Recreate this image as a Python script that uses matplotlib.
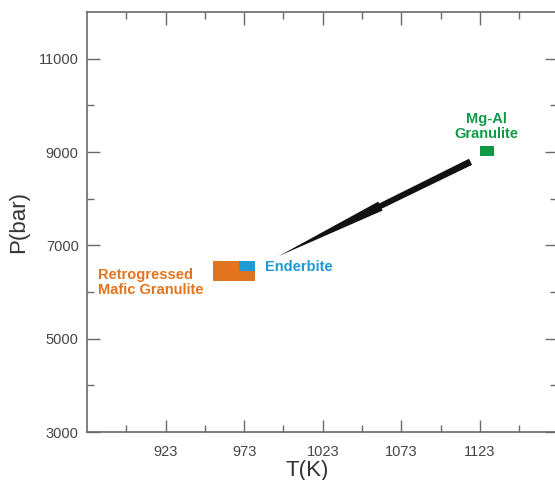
import matplotlib
matplotlib.use("Agg")
import matplotlib.pyplot as plt
from matplotlib.patches import Rectangle, Polygon
from matplotlib.ticker import FixedLocator
import numpy as np

plt.rcParams['font.family'] = ['Liberation Sans', 'DejaVu Sans']

# axis ticks
t_major = [923, 973, 1023, 1073, 1123]
t_minor = [898, 948, 998, 1048, 1098, 1148]
p_major = [3000, 5000, 7000, 9000, 11000]
p_minor = [4000, 6000, 8000, 10000]

# P-T fields: (Tmin, Tmax, Pmin, Pmax)
mafic_box = (953, 980, 6230, 6660)
enderbite_box = (970, 980, 6440, 6660)
mgal_box = (1123, 1132, 8910, 9130)

# P-T path arrow (tail -> tip) and where the step sits along it
arrow_tail = (1117, 8790)
arrow_tip = (995, 6770)
step_from, step_to = 0.47, 0.53

orange = '#E3741F'
blue = '#1C9AD6'
green = '#109A48'
axcol = '#6a6a6a'

fig = plt.figure(figsize=(5.55, 4.8), dpi=100)
ax = fig.add_axes([87 / 555, 0.1, 470 / 555, 0.875])
ax.set_xlim(873, 1172)
ax.set_ylim(3000, 12000)

ax.xaxis.set_major_locator(FixedLocator(t_major))
ax.xaxis.set_minor_locator(FixedLocator(t_minor))
ax.yaxis.set_major_locator(FixedLocator(p_major))
ax.yaxis.set_minor_locator(FixedLocator(p_minor))
ax.tick_params(which='both', direction='in', top=True, right=True,
               color=axcol, labelcolor='#444444', labelsize=10.5, width=1)
ax.tick_params(which='major', length=9)
ax.tick_params(axis='x', which='major', pad=9)
ax.tick_params(axis='y', which='major', pad=6)
ax.tick_params(which='minor', length=5)
for s in ax.spines.values():
    s.set_color(axcol)
    s.set_linewidth(1.2)

ax.set_xlabel('T(K)', fontsize=16, color='#333333')
ax.set_ylabel('P(bar)', fontsize=16, color='#333333')
ax.xaxis.set_label_coords(0.469, -0.066)
ax.yaxis.set_label_coords(-0.123, 0.5)

def box(b, c):
    ax.add_patch(Rectangle((b[0], b[2]), b[1] - b[0], b[3] - b[2],
                           facecolor=c, edgecolor='none', zorder=3))

box(mafic_box, orange)
box(enderbite_box, blue)
box(mgal_box, green)

# tapered arrow drawn in display space
fig.canvas.draw()
t = ax.transData.transform(arrow_tail)
p = ax.transData.transform(arrow_tip)
L = np.hypot(*(p - t))
u = (p - t) / L
n = np.array([-u[1], u[0]])
a = t + u * L * step_from
b = t + u * L * step_to
pts = [t + n * 3.4, a + n * 2.9, a + n * 5.0, b + n * 4.4, p,
       b - n * 4.4, a - n * 5.0, a - n * 2.9, t - n * 3.4]
ax.add_patch(Polygon(pts, closed=True, facecolor='#111111', edgecolor='none',
                     transform=None, zorder=4))

ax.text(1127, 9240, 'Mg-Al\nGranulite', color=green, fontsize=10.5,
        fontweight='bold', ha='center', va='bottom', linespacing=1.05)
ax.text(986, 6530, 'Enderbite', color=blue, fontsize=10.5,
        fontweight='bold', ha='left', va='center')
ax.text(880, 6200, 'Retrogressed\nMafic Granulite', color=orange, fontsize=10.5,
        fontweight='bold', ha='left', va='center', linespacing=1.05)

fig.savefig('out.png', dpi=100)
